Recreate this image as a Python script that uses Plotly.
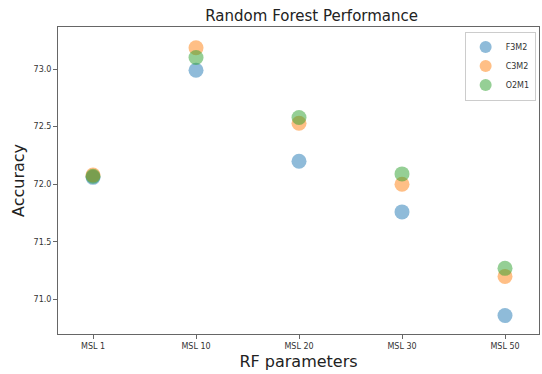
import plotly.graph_objects as go

categories = ["MSL 1", "MSL 10", "MSL 20", "MSL 30", "MSL 50"]
series_names = ["F3M2", "C3M2", "O2M1"]
f3m2 = [72.06, 72.99, 72.20, 71.76, 70.86]
c3m2 = [72.08, 73.185, 72.53, 72.00, 71.20]
o2m1 = [72.07, 73.10, 72.58, 72.09, 71.27]
y_ticks = [71.0, 71.5, 72.0, 72.5, 73.0]
colors = ["#1f77b4", "#ff7f0e", "#2ca02c"]

fig = go.Figure()
for name, vals, col in zip(series_names, [f3m2, c3m2, o2m1], colors):
    fig.add_trace(go.Scatter(
        x=list(range(len(categories))), y=vals, mode="markers", name=name,
        marker=dict(size=15, color=col, opacity=0.5, line=dict(width=0)),
    ))

font = "DejaVu Sans"
fig.update_layout(
    width=542, height=374,
    margin=dict(l=58, r=3, t=27, b=40),
    paper_bgcolor="white", plot_bgcolor="white",
    font=dict(family=font, color="#333333"),
    title=dict(text="Random Forest Performance", x=0.575, xanchor="center",
               y=0.958, yanchor="middle", font=dict(size=15, color="#222222")),
    showlegend=True,
    legend=dict(x=0.993, y=0.985, xanchor="right", yanchor="top",
                bordercolor="#cccccc", borderwidth=1, bgcolor="rgba(255,255,255,0.8)",
                font=dict(size=8, color="#333333"), itemsizing="constant",
                tracegroupgap=0, itemwidth=30),
)
fig.update_xaxes(
    tickmode="array", tickvals=list(range(len(categories))), ticktext=categories,
    range=[-0.34, 4.33], showgrid=False, zeroline=False,
    showline=True, linecolor="#666666", linewidth=1, mirror=True,
    ticks="outside", ticklen=4, tickcolor="#666666",
    tickfont=dict(size=8, color="#333333"),
    title=dict(text="RF parameters", font=dict(size=16, color="#222222"), standoff=6),
)
fig.update_yaxes(
    tickmode="array", tickvals=y_ticks, ticktext=[f"{v:.1f}" for v in y_ticks],
    range=[70.70, 73.365], showgrid=False, zeroline=False,
    showline=True, linecolor="#666666", linewidth=1, mirror=True,
    ticks="outside", ticklen=4, tickcolor="#666666",
    tickfont=dict(size=8, color="#333333"),
    title=dict(text="Accuracy", font=dict(size=16, color="#222222"), standoff=4),
)
fig.write_html("out.html")
